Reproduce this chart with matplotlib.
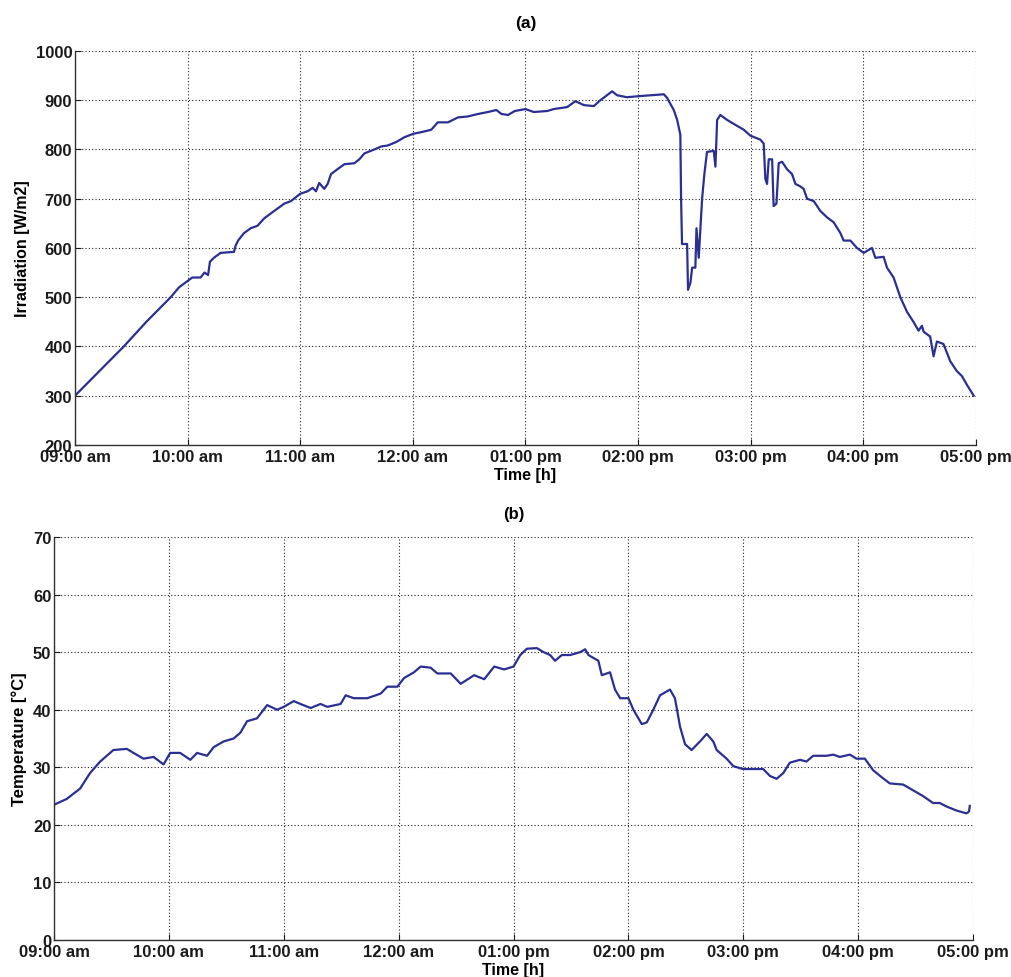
import matplotlib
matplotlib.use("Agg")
import matplotlib.pyplot as plt
import numpy as np

plt.rcParams['font.family'] = ['Liberation Sans', 'DejaVu Sans']
plt.rcParams['font.weight'] = 'bold'

# time axis: minutes after 09:00
tick_minutes = [0, 60, 120, 180, 240, 300, 360, 420, 480]
tick_labels = ["09:00 am", "10:00 am", "11:00 am", "12:00 am", "01:00 pm",
               "02:00 pm", "03:00 pm", "04:00 pm", "05:00 pm"]

# (a) irradiation, W/m2
irr_t = [0, 13, 26, 38, 51, 55.4, 62.5, 66.9, 69, 70.9, 71.9, 74, 77.6, 84.7,
         85.6, 86.9, 90, 93.6, 97.2, 100.8, 104.3, 107.9, 111.5, 115, 120,
         123.9, 126.6, 128.4, 130.1, 132.8, 134.6, 136.4, 139.9, 143.5, 148.8,
         151.5, 154.2, 159.5, 163.1, 166.6, 171.1, 175.6, 180.4, 184.4, 189.8,
         193.3, 198.7, 204, 209.4, 214.7, 220, 224.5, 227.2, 230.7, 234.3,
         240, 244.4, 251.5, 255.1, 262.2, 266.6, 271.1, 276.4, 279.9, 286.2,
         288.8, 294.1, 299.8, 306.6, 313.7, 315.4, 319, 320.8, 322.5, 322.9,
         323.4, 326.1, 326.6, 327.9, 328.8, 330.5, 331.1, 332.3, 333.2, 334.1,
         335.3, 336.7, 340.3, 341.2, 342.1, 343.8, 347.4, 350.9, 356.3, 359.8,
         365.1, 366.9, 367.8, 368.7, 369.6, 371.4, 372.2, 373.7, 374.9, 376.7,
         379.3, 382, 383.8, 386.4, 388.2, 390, 393.6, 397.1, 400.7, 404.2,
         407.8, 409.5, 413.1, 416.6, 420.2, 424.6, 426.4, 430.8, 432.6, 436.1,
         439.7, 443.3, 446.7, 449.4, 451.2, 452.1, 455.6, 457.4, 459.2, 462.7,
         466.3, 469.8, 472.5, 475.2, 478.8]
irr_v = [300, 350, 400, 450, 500, 520, 540, 540, 550, 545, 572, 580, 590, 592,
         605, 615, 630, 640, 645, 660, 670, 680, 690, 695, 710,
         715, 722, 715, 732, 720, 730, 750, 760, 770, 772,
         780, 792, 800, 806, 808, 815, 825, 832, 835, 840,
         855, 855, 865, 867, 872, 876, 880, 872, 870, 878,
         882, 876, 878, 882, 886, 898, 890, 888, 900, 918,
         910, 906, 908, 910, 912, 905, 880, 860, 830, 700,
         608, 608, 515, 530, 560, 560, 640, 580, 640, 700,
         750, 795, 797, 765, 860, 870, 860, 852, 840, 828,
         820, 812, 740, 730, 780, 780, 685, 690, 772, 775,
         760, 750, 730, 725, 720, 700, 695, 675, 662, 652,
         630, 615, 615, 600, 590, 600, 580, 582, 560, 540,
         500, 470, 450, 432, 442, 430, 420, 380, 410, 405,
         370, 350, 340, 322, 300]

# (b) temperature, degC
tmp_t = [0, 6.6, 13.6, 18.8, 24.1, 31, 38, 41.5, 46.7, 52, 57.2, 60.7, 65.9,
         71.2, 74.7, 79.9, 83.4, 88.6, 93.8, 97.3, 100.8, 106, 111.3, 116.5,
         120, 125.2, 128.7, 134, 139.2, 142.7, 149.7, 152.3, 156.6, 163.6,
         170.6, 174.1, 179.3, 182.8, 188, 191.5, 196.7, 200.2, 207.2, 212.4,
         219.4, 224.7, 229.9, 235.1, 240, 243.5, 247, 252.2, 255.7, 259.1,
         261.7, 265.2, 269.6, 274.8, 277.4, 279.1, 284.3, 286.1, 290.4, 293,
         295.7, 300, 302.6, 307, 309.6, 313, 316.5, 321.7, 324.3, 327, 329.6,
         333, 337.4, 340.9, 344.3, 346.1, 351.3, 354.8, 359.8, 370.4, 373.9,
         377.4, 380.9, 384.3, 389.6, 393, 396.5, 403.5, 407, 410.4, 415.7,
         419.1, 423.5, 427.8, 432.2, 436.5, 443.5, 448.7, 453.9, 459.1, 462.6,
         466.1, 471.3, 476.5, 477.9, 478.3]
tmp_v = [23.5, 24.5, 26.3, 29, 31, 33, 33.2, 32.5, 31.5, 31.8, 30.5, 32.5, 32.5,
         31.3, 32.5, 32, 33.5, 34.5, 35, 36, 38, 38.5, 40.8, 40,
         40.5, 41.5, 41, 40.3, 41, 40.5, 41, 42.5, 42, 42,
         42.8, 44, 44, 45.5, 46.5, 47.5, 47.3, 46.3, 46.3, 44.5,
         46, 45.3, 47.5, 47, 47.5, 49.5, 50.6, 50.7, 50, 49.5,
         48.5, 49.5, 49.5, 50, 50.5, 49.5, 48.5, 46, 46.5, 43.5,
         42, 42, 40, 37.5, 37.8, 40, 42.5, 43.5, 42, 37, 34,
         33, 34.5, 35.8, 34.5, 33, 31.5, 30.2, 29.7, 29.7, 28.5,
         28, 29, 30.8, 31.3, 31, 32, 32, 32.2, 31.8, 32.2,
         31.5, 31.5, 29.5, 28.3, 27.2, 27, 26, 25, 23.8, 23.8,
         23.2, 22.5, 22, 22.3, 23.3]

line_color = "#2b2f93"

fig = plt.figure(figsize=(10.12, 9.78), dpi=100)
ax1 = fig.add_axes([0.0741, 0.544, 0.8903, 0.4029])
ax2 = fig.add_axes([0.0534, 0.0378, 0.9081, 0.4121])


def style_axis(ax, ylim, yticks):
    ax.set_xlim(0, 480)
    ax.set_ylim(*ylim)
    ax.set_xticks(tick_minutes)
    ax.set_xticklabels(tick_labels)
    ax.set_yticks(yticks)
    ax.grid(True, color="#222222", linestyle=(0, (1, 2)), linewidth=0.8)
    ax.spines["top"].set_visible(False)
    ax.spines["right"].set_visible(False)
    for s in ("left", "bottom"):
        ax.spines[s].set_color("#333333")
        ax.spines[s].set_linewidth(1.0)
    ax.tick_params(direction="in", length=4, width=0.8, labelsize=12,
                   colors="#1a1a1a")
    ax.tick_params(axis="x", pad=3)
    ax.tick_params(axis="y", pad=2)
    for lbl in ax.get_xticklabels() + ax.get_yticklabels():
        lbl.set_fontweight("bold")


ax1.plot(irr_t, irr_v, color=line_color, linewidth=1.6)
style_axis(ax1, (200, 1000), np.arange(200, 1001, 100))
ax1.set_ylabel("Irradiation [W/m2]", fontsize=11.5, fontweight="bold", labelpad=4)
ax1.set_xlabel("Time [h]", fontsize=11.5, fontweight="bold", labelpad=2)
ax1.set_title("(a)", fontsize=12.5, fontweight="bold", pad=17)

ax2.plot(tmp_t, tmp_v, color=line_color, linewidth=1.6)
style_axis(ax2, (0, 70), np.arange(0, 71, 10))
ax2.set_ylabel("Temperature [°C]", fontsize=12, fontweight="bold", labelpad=4)
ax2.set_xlabel("Time [h]", fontsize=11.5, fontweight="bold", labelpad=2)
ax2.set_title("(b)", fontsize=12, fontweight="bold", pad=14)

fig.savefig("out.png", dpi=100)
